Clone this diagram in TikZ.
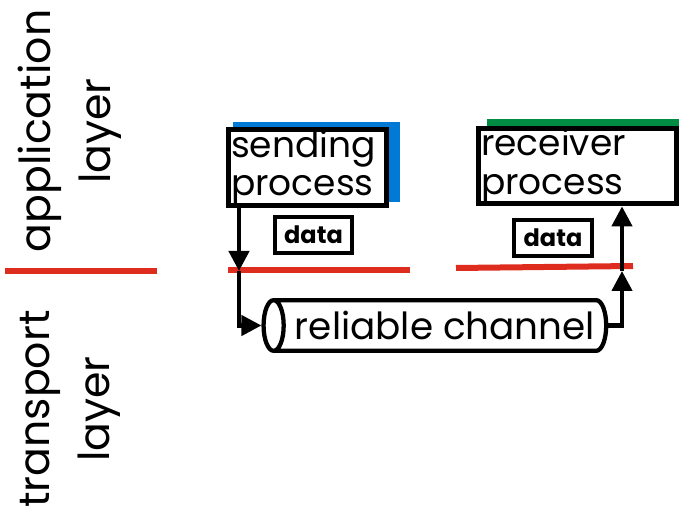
\documentclass[tikz,border=0pt]{standalone}
\usepackage{fontspec}
\setmainfont{Poppins}
\usetikzlibrary{shapes.geometric,arrows.meta}
\definecolor{tl_red}{RGB}{222, 44, 30}
\definecolor{tl_blue}{RGB}{0, 122, 212}
\definecolor{tl_green}{RGB}{0, 140, 66}
\tikzstyle{proc}=[draw=black,fill=white,line width=4pt,inner xsep=2pt,
  inner ysep=0pt,align=left,minimum height=55.5pt,
  font=\fontsize{27}{29}\selectfont]
\tikzstyle{pdu}=[draw=black,fill=white,line width=2.8pt,inner sep=0pt,
  minimum width=58pt,minimum height=27.4pt,font=\fontsize{18}{20}\bfseries]
\tikzstyle{chan}=[cylinder,shape border rotate=180,aspect=0.7,draw=black,
  line width=3.2pt,minimum height=257pt,minimum width=38pt,inner sep=0pt,
  font=\fontsize{28}{30}\selectfont]
\tikzstyle{lyr}=[rotate=90,align=center,inner sep=0pt,
  font=\fontsize{32}{45}\selectfont]
\tikzstyle{sep}=[tl_red,line width=4.5pt]
\tikzstyle{flow}=[line width=3.2pt,-{Triangle[length=15pt,width=15pt]}]

\begin{document}
\begin{tikzpicture}[x=0.75pt,y=-0.75pt]
    \useasboundingbox (0,0) rectangle (679,506);
    \node [style=lyr] (app) at (70,131) {application\\layer};
    \node [style=lyr] (trans) at (70,409) {transport\\layer};
    \draw [style=sep] (5,271) -- (157,271);
    \draw [style=sep] (228,270) -- (410,270);
    \draw [style=sep] (456,268) -- (633,266);
    \fill [tl_blue] (233,122) rectangle (400,202);
    \fill [tl_green] (487,119) rectangle (690,200);
    \node [style=proc,text width=114.5pt] (send) at (307.5,167.5) {sending\\process};
    \node [style=proc,text width=144.5pt] (recv) at (577.5,166) {receiver\\process};
    \node [style=pdu] (sdata) at (313.5,235) {data};
    \node [style=pdu] (rdata) at (553,238) {data};
    \node [style=chan] (pipe) at (441,325.5) {\hspace{6pt}reliable channel};
    \coordinate (sdown) at (239,271);
    \coordinate (rup) at (622,271);
    \draw [style=flow] (send.south -| sdown) -- (sdown);
    \draw [style=flow] (sdown) |- (pipe.west);
    \draw [style=flow] (pipe.east) -| (rup);
    \draw [style=flow] (rup) -- (recv.south -| rup);
  \end{tikzpicture}
\end{document}
